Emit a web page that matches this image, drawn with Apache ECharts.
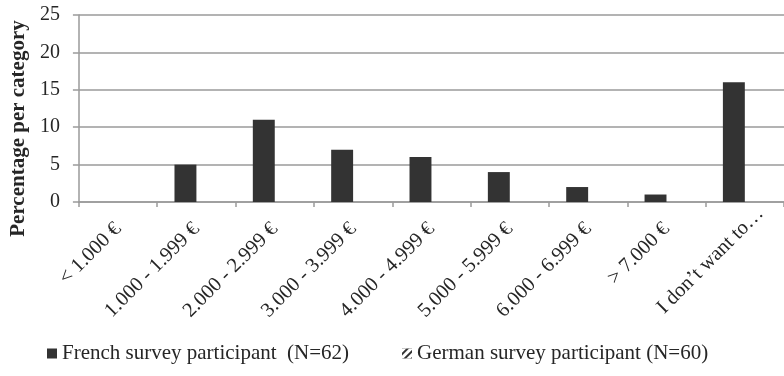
<!DOCTYPE html>
<html>
<head>
<meta charset="utf-8">
<style>
  html, body { margin: 0; padding: 0; background: #ffffff; }
  #chart { width: 784px; height: 376px; }
</style>
<script src="https://cdn.jsdelivr.net/npm/echarts@6/dist/echarts.min.js"></script>
</head>
<body>
<div id="chart"></div>
<script>
// Monthly net household income brackets
const categories = [
  '< 1.000 €', '1.000 - 1.999 €', '2.000 - 2.999 €', '3.000 - 3.999 €',
  '4.000 - 4.999 €', '5.000 - 5.999 €', '6.000 - 6.999 €', '> 7.000 €',
  'I don\u2019t want to…'
];
const seriesNames = ['French survey participant  (N=62)', 'German survey participant (N=60)'];
// Percentage of respondents per bracket
const frenchValues = [0, 5, 11, 7, 6, 4, 2, 1, 16];
const germanValues = [0, 0, 0, 0, 0, 0, 0, 0, 0];
const yTicks = { min: 0, max: 25, interval: 5 };

const FONT = 'Liberation Serif';
const TEXT = '#262626';
const GRID = '#9a9a9a';

// The truncated last label sits a little further along its slant
const categoryData = categories.map((name, i) =>
  i === categories.length - 1
    ? { value: name, textStyle: { padding: [0, -22, 0, 0] } }
    : name
);

const chart = echarts.init(document.getElementById('chart'), null, { renderer: 'canvas' });
chart.setOption({
  backgroundColor: '#ffffff',
  animation: false,
  grid: { left: 75, right: 0, top: 15, bottom: 174, containLabel: false },
  legend: [
    {
      data: [seriesNames[0]], left: 47, top: 343, padding: 0, icon: 'rect',
      itemWidth: 10, itemHeight: 10,
      textStyle: { fontFamily: FONT, fontSize: 21, color: TEXT }
    },
    {
      data: [seriesNames[1]], left: 402, top: 343, padding: 0, icon: 'rect',
      itemWidth: 10, itemHeight: 10,
      textStyle: { fontFamily: FONT, fontSize: 21, color: TEXT }
    }
  ],
  xAxis: {
    type: 'category',
    data: categoryData,
    boundaryGap: true,
    axisLine: { lineStyle: { color: GRID, width: 1.5 } },
    axisTick: { show: true, length: 5, alignWithLabel: false, lineStyle: { color: GRID, width: 1.5 } },
    axisLabel: {
      interval: 0, rotate: 45, margin: 24,
      fontFamily: FONT, fontSize: 20.5, color: TEXT
    },
    splitLine: { show: false }
  },
  yAxis: {
    type: 'value',
    min: yTicks.min, max: yTicks.max, interval: yTicks.interval,
    name: 'Percentage per category',
    nameLocation: 'middle',
    nameGap: 47,
    nameTextStyle: {
      fontFamily: FONT, fontSize: 21, fontWeight: 'bold', color: TEXT,
      padding: [0, 40, 0, 0]
    },
    axisLine: { show: true, lineStyle: { color: GRID, width: 1.5 } },
    axisTick: { show: true, length: 6, lineStyle: { color: GRID, width: 1.5 } },
    axisLabel: { margin: 19, fontFamily: FONT, fontSize: 20, color: TEXT },
    splitLine: { show: true, lineStyle: { color: GRID, width: 1.5 } }
  },
  series: [
    {
      name: seriesNames[0],
      type: 'bar',
      data: frenchValues,
      barGap: '0%',
      barCategoryGap: '44%',
      itemStyle: { color: '#333333' }
    },
    {
      name: seriesNames[1],
      type: 'bar',
      data: germanValues,
      barGap: '0%',
      barCategoryGap: '44%',
      itemStyle: {
        color: '#333333',
        decal: {
          symbol: 'rect',
          color: '#ffffff',
          dashArrayX: [1, 0],
          dashArrayY: [3, 2],
          rotation: -Math.PI / 4
        }
      }
    }
  ]
});
</script>
</body>
</html>
